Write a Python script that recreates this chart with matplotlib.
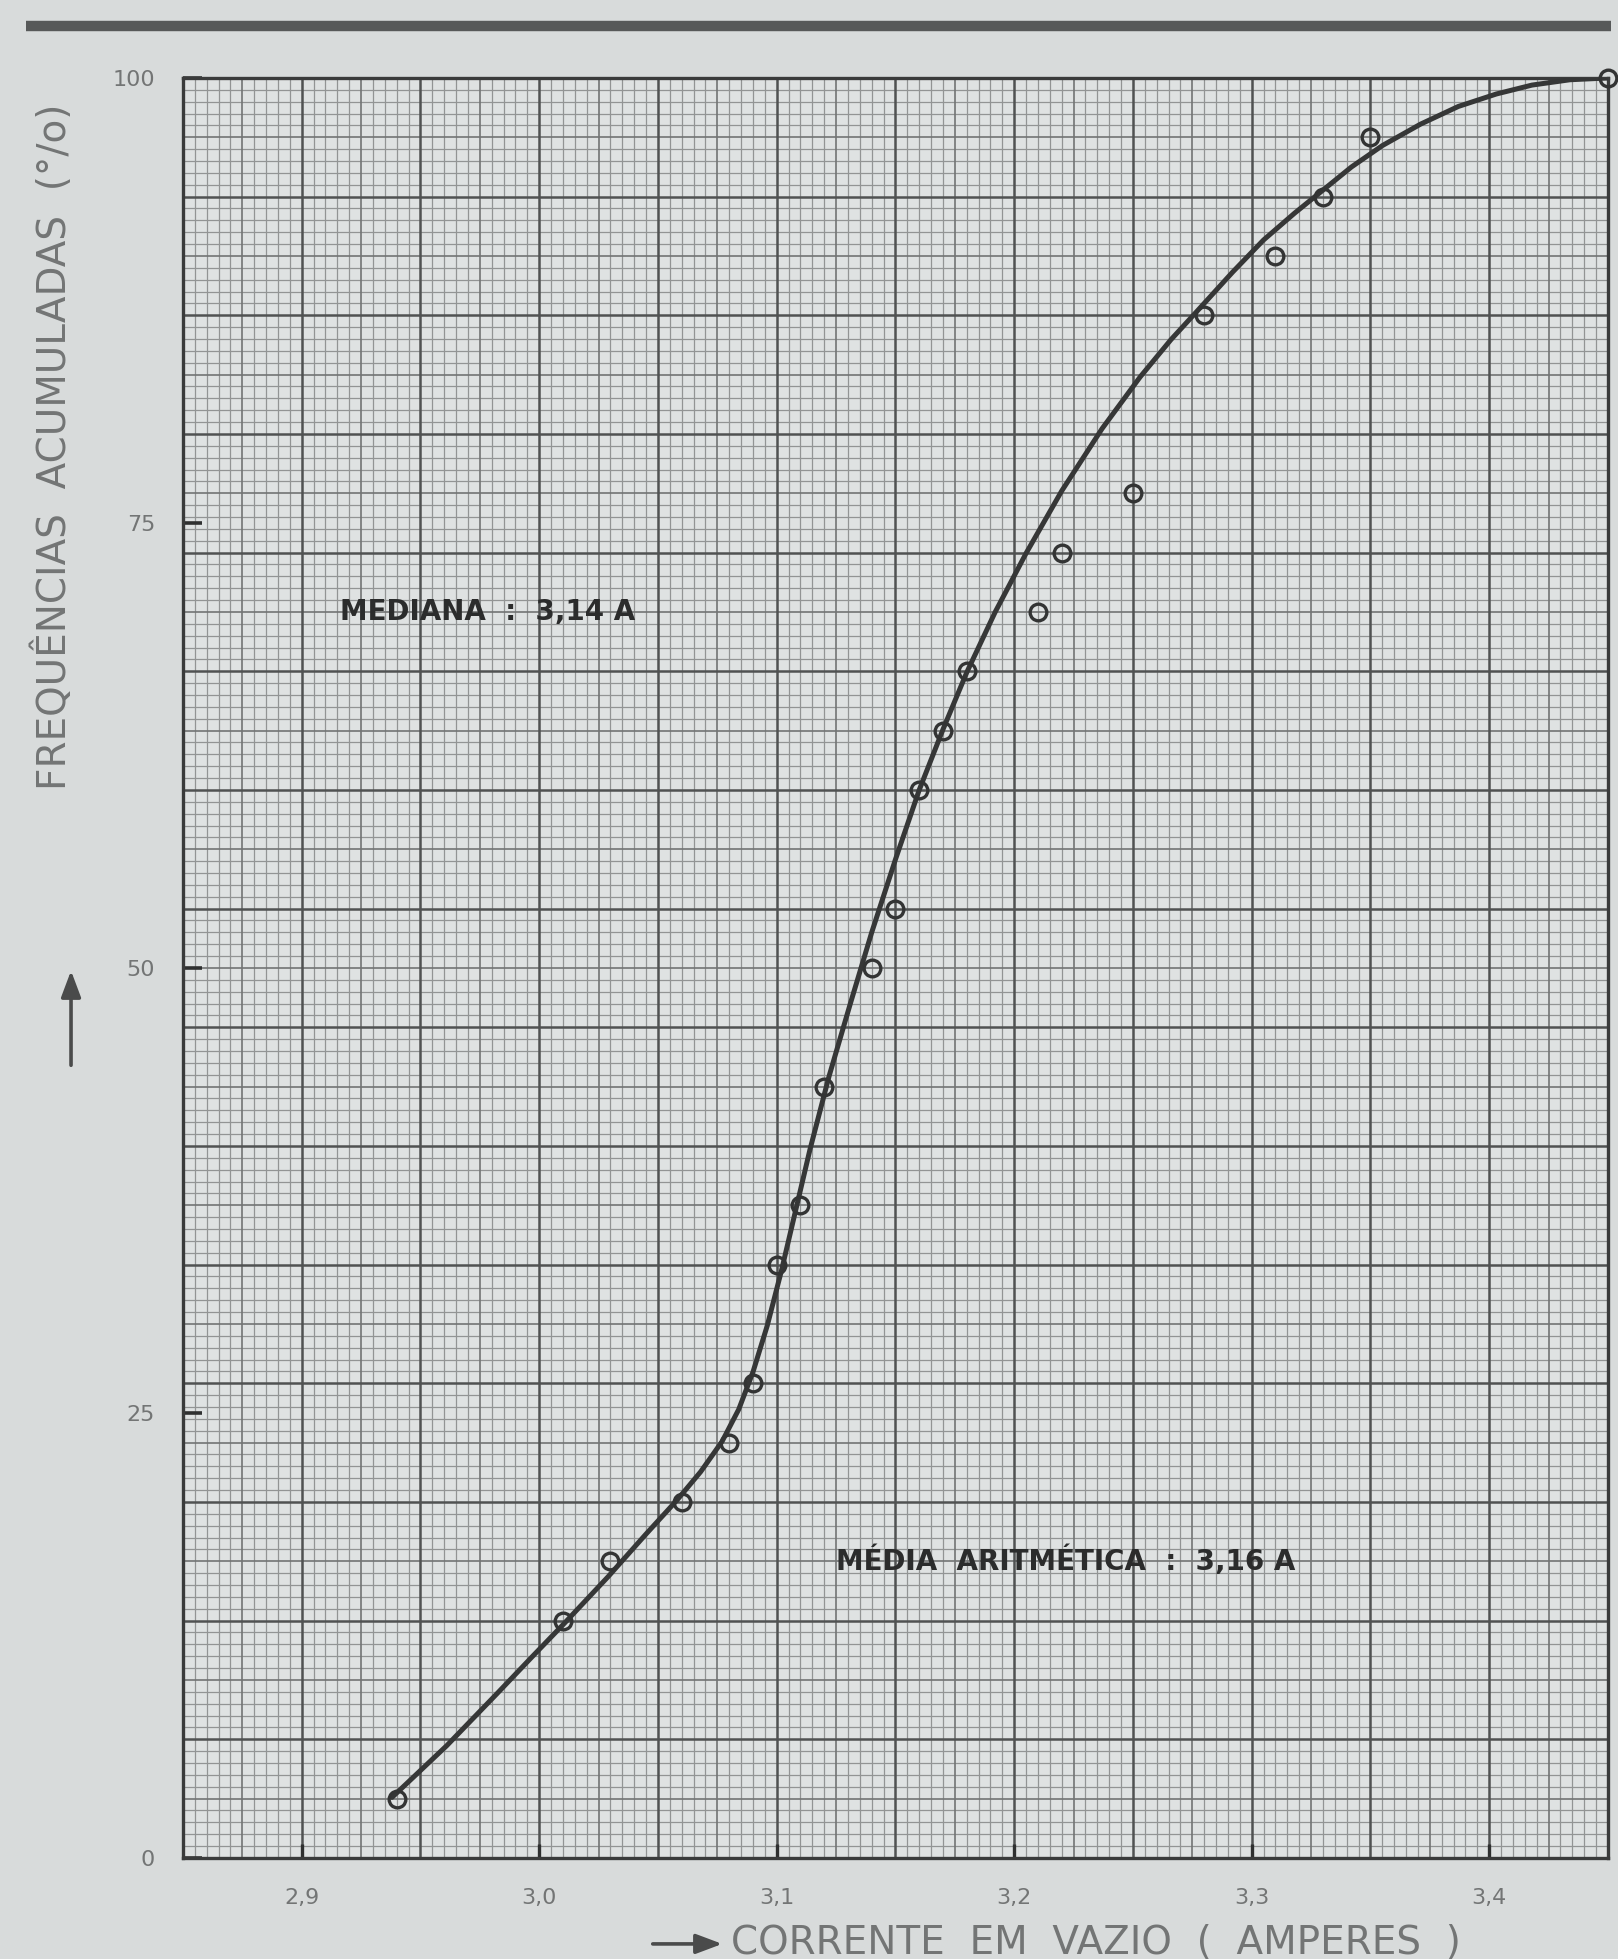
import numpy as np
import matplotlib.pyplot as plt
from matplotlib.patches import FancyArrowPatch

# ------------------------------------------
# data read off the scanned ogive
# ------------------------------------------

corrente = [2.94, 3.01, 3.03, 3.06, 3.08, 3.09, 3.10, 3.11, 3.12, 3.14, 3.15,
            3.16, 3.17, 3.18, 3.21, 3.22, 3.25, 3.28, 3.31, 3.33, 3.35, 3.45]
freq_acum = [3.3, 13.3, 16.7, 20.0, 23.3, 26.7, 33.3, 36.7, 43.3, 50.0, 53.3,
             60.0, 63.3, 66.7, 70.0, 73.3, 76.7, 86.7, 90.0, 93.3, 96.7, 100.0]

# hand drawn fitted curve, traced point by point along the ink
curva_x = [2.938, 2.961, 2.982, 2.997, 3.010, 3.029, 3.045, 3.058, 3.068,
           3.077, 3.084, 3.090, 3.096, 3.102, 3.108, 3.114, 3.122, 3.131,
           3.140, 3.150, 3.160, 3.170, 3.180, 3.192, 3.205, 3.220, 3.237,
           3.253, 3.266, 3.277, 3.292, 3.305, 3.318, 3.330, 3.342, 3.355,
           3.371, 3.387, 3.403, 3.418, 3.434, 3.450]
curva_y = [3.4, 6.3, 9.2, 11.3, 13.1, 15.8, 18.2, 20.1, 21.7,
           23.4, 25.2, 27.3, 29.9, 33.0, 36.4, 39.8, 43.9, 48.0,
           52.0, 56.1, 60.0, 63.4, 66.6, 70.0, 73.3, 76.8, 80.3,
           83.2, 85.3, 86.9, 89.1, 90.9, 92.4, 93.7, 95.0, 96.2,
           97.4, 98.4, 99.1, 99.6, 99.9, 100.0]

x_ticks = [2.9, 3.0, 3.1, 3.2, 3.3, 3.4]
x_labels = ["2,9", "3,0", "3,1", "3,2", "3,3", "3,4"]
y_ticks = [0, 25, 50, 75, 100]
y_labels = ["0", "25", "50", "75", "100"]

PAPER = "#d8dbdb"
INK = "#2f3030"
GREY_TXT = "#737575"

fig = plt.figure(figsize=(16.18, 19.59), dpi=100, facecolor=PAPER)
ax = fig.add_axes([0.1131, 0.0516, 0.8807, 0.9086])
ax.set_facecolor("#dfe2e2")
ax.set_xlim(2.85, 3.45)
ax.set_ylim(0, 100)

# ------------------------------------------
# millimetre paper: 1 mm, 5 mm, 10 mm lines
# ------------------------------------------
gx = np.linspace(2.85, 3.45, 121)
gy = np.linspace(0, 100, 151)
levels = [(lambda i: i % 5 != 0, 0.9, "#929494"),
          (lambda i: i % 5 == 0 and i % 10 != 0, 1.2, "#727474"),
          (lambda i: i % 10 == 0, 1.8, "#505252")]
for keep, lw, col in levels:
    ax.vlines([v for i, v in enumerate(gx) if keep(i)], 0, 100,
              colors=col, linewidth=lw, zorder=1)
    ax.hlines([v for i, v in enumerate(gy) if keep(i)], 2.85, 3.45,
              colors=col, linewidth=lw, zorder=1)

# curve + observed points
ax.plot(curva_x, curva_y, color="#363737", linewidth=3.6,
        solid_joinstyle="round", solid_capstyle="round", zorder=3)
ax.plot(corrente, freq_acum, linestyle="none", marker="o", markersize=12,
        markerfacecolor="none", markeredgecolor="#333434",
        markeredgewidth=2.4, clip_on=False, zorder=4)

# annotations
ax.text(2.916, 70.0, "MEDIANA  :  3,14 A", fontsize=20, fontweight="bold",
        color="#2b2c2c", ha="left", va="center", zorder=5)
ax.text(3.125, 16.7, "MÉDIA  ARITMÉTICA  :  3,16 A", fontsize=20,
        fontweight="bold", color="#2b2c2c", ha="left", va="center", zorder=5)

# axes styling
for s in ax.spines.values():
    s.set_color("#3a3b3b")
    s.set_linewidth(2.4)
    s.set_zorder(2)

ax.set_xticks(x_ticks)
ax.set_xticklabels(x_labels)
ax.set_yticks(y_ticks)
ax.set_yticklabels(y_labels)
ax.tick_params(axis="x", direction="in", length=10, width=2.4, color=INK,
               labelcolor=GREY_TXT, labelsize=16, pad=22)
ax.tick_params(axis="y", direction="in", length=14, width=2.6, color=INK,
               labelcolor=GREY_TXT, labelsize=16, pad=20)

# thick rule across the top of the page
fig.add_artist(plt.Line2D([0.016, 0.9957], [0.9867, 0.9867],
                          color="#575959", linewidth=7.5,
                          solid_capstyle="butt"))

# axis titles with their arrows
fig.text(0.452, 0.0025, "CORRENTE  EM  VAZIO  (  AMPERES  )", fontsize=28,
         color=GREY_TXT, ha="left", va="baseline")
fig.text(0.033, 0.772, "FREQUÊNCIAS  ACUMULADAS  (°/o)", fontsize=28,
         color=GREY_TXT, ha="center", va="center", rotation=90)

arrow = dict(arrowstyle="-|>,head_length=0.8,head_width=0.3",
             color="#4a4b4b", linewidth=2.6)
fig.add_artist(FancyArrowPatch((0.0439, 0.4548), (0.0439, 0.5059),
                               transform=fig.transFigure,
                               mutation_scale=20, **arrow))
fig.add_artist(FancyArrowPatch((0.4017, 0.0077), (0.4481, 0.0077),
                               transform=fig.transFigure,
                               mutation_scale=20, **arrow))

fig.savefig("out.png", dpi=100, facecolor=PAPER)
